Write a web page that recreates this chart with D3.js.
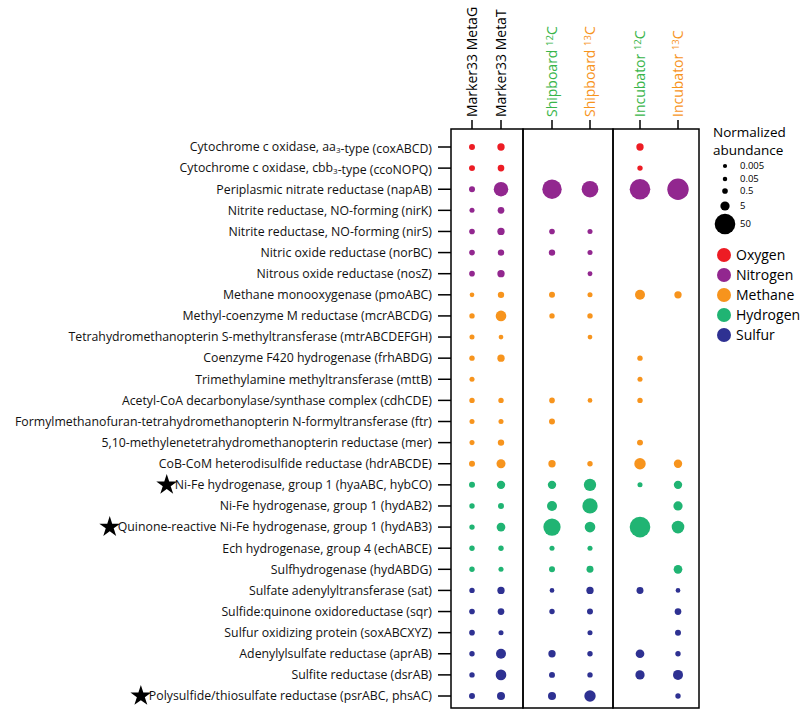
<!DOCTYPE html>
<html lang="en">
<head>
    <meta charset="UTF-8">
    <title>Metabolic gene abundance</title>
    <script src="https://d3js.org/d3.v7.min.js"></script>
    <style>
        body { margin: 0; background: #fff; }
        text { font-family: "Open Sans", sans-serif; }
        .frame { fill: none; stroke: #000; stroke-width: 1.5px; }
        .tick { stroke: #000; stroke-width: 1.5px; }
    </style>
</head>
<body>
    <script>
        // Genes (rows), {3} marks a subscript
        var genes = [
            "Cytochrome c oxidase, aa{3}-type (coxABCD)",
            "Cytochrome c oxidase, cbb{3}-type (ccoNOPQ)",
            "Periplasmic nitrate reductase (napAB)",
            "Nitrite reductase, NO-forming (nirK)",
            "Nitrite reductase, NO-forming (nirS)",
            "Nitric oxide reductase (norBC)",
            "Nitrous oxide reductase (nosZ)",
            "Methane monooxygenase (pmoABC)",
            "Methyl-coenzyme M reductase (mcrABCDG)",
            "Tetrahydromethanopterin S-methyltransferase (mtrABCDEFGH)",
            "Coenzyme F420 hydrogenase (frhABDG)",
            "Trimethylamine methyltransferase (mttB)",
            "Acetyl-CoA decarbonylase/synthase complex (cdhCDE)",
            "Formylmethanofuran-tetrahydromethanopterin N-formyltransferase (ftr)",
            "5,10-methylenetetrahydromethanopterin reductase (mer)",
            "CoB-CoM heterodisulfide reductase (hdrABCDE)",
            "Ni-Fe hydrogenase, group 1 (hyaABC, hybCO)",
            "Ni-Fe hydrogenase, group 1 (hydAB2)",
            "Quinone-reactive Ni-Fe hydrogenase, group 1 (hydAB3)",
            "Ech hydrogenase, group 4 (echABCE)",
            "Sulfhydrogenase (hydABDG)",
            "Sulfate adenylyltransferase (sat)",
            "Sulfide:quinone oxidoreductase (sqr)",
            "Sulfur oxidizing protein (soxABCXYZ)",
            "Adenylylsulfate reductase (aprAB)",
            "Sulfite reductase (dsrAB)",
            "Polysulfide/thiosulfate reductase (psrABC, phsAC)"
        ];
        var starred = [16, 18, 26];
        var geneGroup = [
            "Oxygen", "Oxygen",
            "Nitrogen", "Nitrogen", "Nitrogen", "Nitrogen", "Nitrogen",
            "Methane", "Methane", "Methane", "Methane", "Methane", "Methane", "Methane", "Methane", "Methane",
            "Hydrogen", "Hydrogen", "Hydrogen", "Hydrogen", "Hydrogen",
            "Sulfur", "Sulfur", "Sulfur", "Sulfur", "Sulfur", "Sulfur"
        ];

        var groups = ["Oxygen", "Nitrogen", "Methane", "Hydrogen", "Sulfur"];
        var groupColors = ["#ed1c24", "#92278f", "#f7941d", "#20b473", "#2e3192"];

        // Samples (columns)
        var samples = ["Marker33 MetaG", "Marker33 MetaT", "Shipboard", "Shipboard", "Incubator", "Incubator"];
        var isotopes = [null, null, "12", "13", "12", "13"];
        var sampleColors = ["#000", "#000", "#39b54a", "#f7941d", "#39b54a", "#f7941d"];

        // Normalized abundance per sample, one entry per gene (null = not detected)
        var metaG  = [0.7, 0.7, 0.7, 0.2, 0.5, 0.5, 0.5, 0.08, 0.35, 0.2, 0.35, 0.2, 0.35, 0.2, 0.2, 0.7, 0.7, 0.35, 0.35, 0.35, 0.35, 0.35, 0.5, 0.5, 0.35, 0.35, 0.7];
        var metaT  = [2, 1.3, 20, 1.3, 2, 1, 2, 1, 8, 0.1, 2, null, 0.35, 0.2, 1, 4.5, 3.5, 0.7, 4, 0.35, 0.2, 2, 1.3, 0.2, 6.5, 8, 2.9];
        var ship12 = [null, null, 43, null, 0.5, 1, null, 0.7, 0.35, null, null, null, 0.5, 0.7, null, 2, 3.5, 6.5, 32, 0.2, 0.7, 0.1, 0.35, null, 2, 0.7, 2.9];
        var ship13 = [null, null, 29, null, 0.2, 0.2, 0.15, 0.2, 0.35, 0.1, null, null, 0.1, null, null, 0.35, 12.6, 23, 8, 0.2, 1.6, 2, 0.7, 0.2, 0.35, 0.35, 10];
        var inc12  = [2, 0.35, 50, null, null, null, null, 6.5, null, null, 0.35, 0.2, 0.35, null, 0.7, 10, 0.2, null, 50, null, null, 1.6, null, null, 4, 5, null];
        var inc13  = [null, null, 55, null, null, null, null, 2, null, null, null, null, null, null, null, 3.5, 3.5, 5, 13.5, null, 4, 0.1, 1.3, 0.7, 0.35, 6.5, 0.35];
        var columns = [metaG, metaT, ship12, ship13, inc12, inc13];

        // Legend
        var legendSizes = [0.005, 0.05, 0.5, 5, 50];
        var legendSizeLabels = ["0.005", "0.05", "0.5", "5", "50"];

        var width = 800, height = 710;

        var svg = d3.select("body").append("svg")
            .attr("width", width)
            .attr("height", height);

        // Layout
        var frameTop = 129, frameBottom = 708;
        var panels = [[451, 523], [523, 613], [613, 699]];
        var colX = [472, 501, 552, 590, 640, 678];

        var x = d3.scaleOrdinal()
            .domain(d3.range(samples.length))
            .range(colX);

        var y = d3.scalePoint()
            .domain(d3.range(genes.length))
            .range([147, 696]);

        var r = d3.scaleSqrt()
            .domain([0, 50])
            .range([2, 10.3]);

        var color = d3.scaleOrdinal()
            .domain(groups)
            .range(groupColors);

        // Panel frames
        svg.selectAll(".frame")
            .data(panels)
            .enter().append("rect")
            .attr("class", "frame")
            .attr("x", function(d) { return d[0]; })
            .attr("y", frameTop)
            .attr("width", function(d) { return d[1] - d[0]; })
            .attr("height", frameBottom - frameTop);

        // Row ticks and labels
        var rows = svg.selectAll(".row")
            .data(genes)
            .enter().append("g")
            .attr("class", "row")
            .attr("transform", function(d, i) { return "translate(0," + y(i) + ")"; });

        rows.append("line")
            .attr("class", "tick")
            .attr("x1", 438)
            .attr("x2", 451);

        var labels = rows.append("text")
            .attr("x", 432)
            .attr("dy", "0.35em")
            .attr("text-anchor", "end")
            .style("font-size", "12.3px")
            .attr("fill", "#111");

        labels.each(function(d) {
            var t = d3.select(this);
            d.split(/(\{\d+\})/).forEach(function(part) {
                if (!part) return;
                var m = part.match(/^\{(\d+)\}$/);
                if (m) {
                    t.append("tspan")
                        .attr("dy", "0.25em")
                        .style("font-size", "8px")
                        .text(m[1]);
                    t.append("tspan").attr("dy", "-0.25em").text("");
                } else {
                    t.append("tspan").text(part);
                }
            });
        });

        // Stars in front of some labels
        var star = d3.symbol().type(d3.symbolStar).size(135);
        rows.filter(function(d, i) { return starred.indexOf(i) >= 0; })
            .each(function(d) {
                var g = d3.select(this);
                var w = g.select("text").node().getComputedTextLength();
                g.append("path")
                    .attr("d", star)
                    .attr("transform", "translate(" + (432 - w - 8) + ",0)")
                    .attr("fill", "#000");
            });

        // Column ticks and headers
        var cols = svg.selectAll(".col")
            .data(samples)
            .enter().append("g")
            .attr("class", "col")
            .attr("transform", function(d, i) { return "translate(" + x(i) + ",0)"; });

        cols.append("line")
            .attr("class", "tick")
            .attr("y1", 120)
            .attr("y2", frameTop);

        var headers = cols.append("text")
            .attr("transform", "translate(0,117) rotate(-90)")
            .attr("dy", "0.36em")
            .style("font-size", "14px")
            .attr("fill", function(d, i) { return sampleColors[i]; });

        headers.each(function(d, i) {
            var t = d3.select(this);
            t.append("tspan").text(d + (isotopes[i] ? " " : ""));
            if (isotopes[i]) {
                t.append("tspan")
                    .attr("dy", "-0.45em")
                    .style("font-size", "9.5px")
                    .text(isotopes[i]);
                t.append("tspan")
                    .attr("dy", "0.3em")
                    .text("C");
            }
        });

        // Dots
        var cells = [];
        columns.forEach(function(values, c) {
            values.forEach(function(v, g) {
                if (v != null) cells.push({col: c, gene: g, value: v});
            });
        });

        svg.selectAll(".dot")
            .data(cells)
            .enter().append("circle")
            .attr("class", "dot")
            .attr("cx", function(d) { return x(d.col); })
            .attr("cy", function(d) { return y(d.gene); })
            .attr("r", function(d) { return r(d.value); })
            .attr("fill", function(d) { return color(geneGroup[d.gene]); });

        // Size legend
        var legend = svg.append("g");

        legend.append("text")
            .attr("x", 713)
            .attr("y", 137)
            .style("font-size", "13.5px")
            .text("Normalized");
        legend.append("text")
            .attr("x", 713)
            .attr("y", 155)
            .style("font-size", "13.5px")
            .text("abundance");

        var sizeRowY = [166, 179, 191, 206, 224];

        var sizeItems = legend.selectAll(".size")
            .data(legendSizes)
            .enter().append("g")
            .attr("class", "size")
            .attr("transform", function(d, i) { return "translate(725," + sizeRowY[i] + ")"; });

        sizeItems.append("circle")
            .attr("r", function(d) { return r(d); })
            .attr("fill", "#000");

        sizeItems.append("text")
            .attr("x", 15)
            .attr("dy", "0.34em")
            .style("font-size", "9.5px")
            .text(function(d, i) { return legendSizeLabels[i]; });

        // Colour legend
        var groupY = d3.scalePoint()
            .domain(groups)
            .range([255, 335]);

        var groupItems = legend.selectAll(".grp")
            .data(groups)
            .enter().append("g")
            .attr("class", "grp")
            .attr("transform", function(d) { return "translate(724," + groupY(d) + ")"; });

        groupItems.append("circle")
            .attr("r", 7)
            .attr("fill", function(d) { return color(d); });

        groupItems.append("text")
            .attr("x", 12)
            .attr("dy", "0.36em")
            .style("font-size", "14px")
            .text(function(d) { return d; });
    </script>
</body>
</html>
